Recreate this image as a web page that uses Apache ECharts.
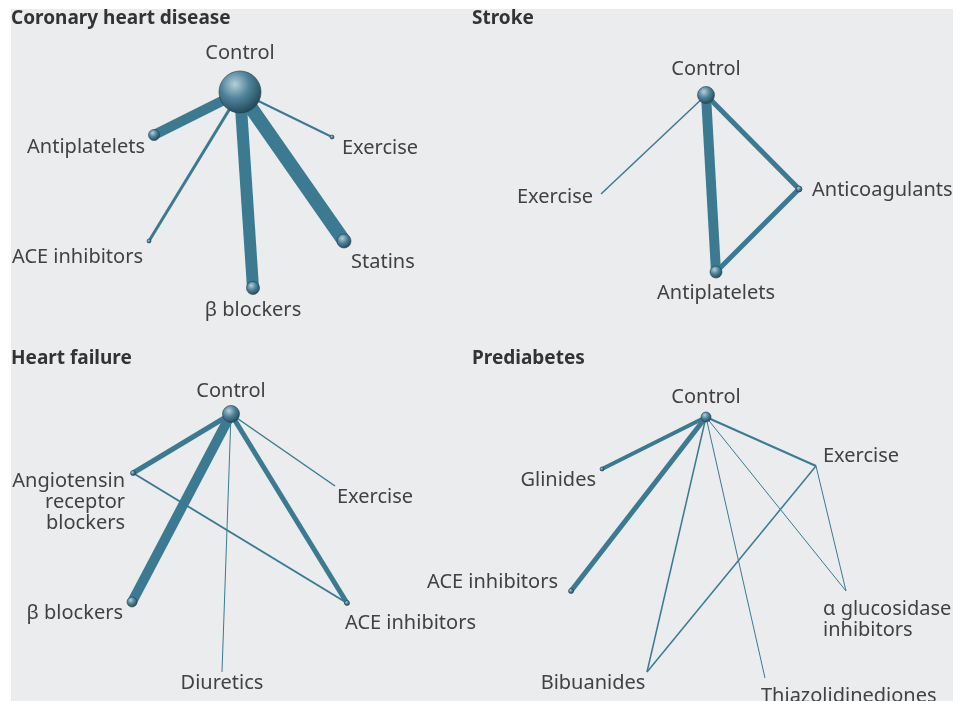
<!DOCTYPE html>
<html>
<head>
<meta charset="utf-8">
<script src="https://cdn.jsdelivr.net/npm/echarts@6/dist/echarts.min.js"></script>
<style>
  html, body { margin: 0; background: #fff; }
  #chart { width: 966px; height: 701px; }
</style>
</head>
<body>
<div id="chart"></div>
<script>
const panelTitles = ["Coronary heart disease", "Stroke", "Heart failure", "Prediabetes"];

// nodes: [name, x, y, ball size] in each panel's own units
const chdNodes = [
  ["Control", 240, 92, 42],
  ["Antiplatelets", 154, 135, 11],
  ["Exercise", 332, 137, 4],
  ["ACE inhibitors", 149, 241, 4],
  ["Statins", 344, 241, 14],
  ["β blockers", 253, 288, 13],
];
// edges: [from, to, thickness]
const chdEdges = [
  ["Control", "Antiplatelets", 10],
  ["Control", "Exercise", 2],
  ["Control", "ACE inhibitors", 3],
  ["Control", "Statins", 14],
  ["Control", "β blockers", 12],
];

const strokeNodes = [
  ["Control", 223, 95, 17],
  ["Exercise", 118, 194, 0],
  ["Anticoagulants", 316, 189, 6],
  ["Antiplatelets", 233, 272, 12],
];
const strokeEdges = [
  ["Control", "Exercise", 1.5],
  ["Control", "Anticoagulants", 5],
  ["Control", "Antiplatelets", 10],
  ["Anticoagulants", "Antiplatelets", 5],
];

const hfNodes = [
  ["Control", 231, 74, 17],
  ["Angiotensin\nreceptor\nblockers", 133, 133, 5],
  ["Exercise", 335, 146, 0],
  ["β blockers", 132, 262, 10],
  ["ACE inhibitors", 347, 263, 5],
  ["Diuretics", 222, 332, 0],
];
const hfEdges = [
  ["Control", "Angiotensin\nreceptor\nblockers", 5],
  ["Control", "Exercise", 1.5],
  ["Control", "β blockers", 10],
  ["Control", "ACE inhibitors", 5],
  ["Control", "Diuretics", 1],
  ["Angiotensin\nreceptor\nblockers", "ACE inhibitors", 2],
];

const predNodes = [
  ["Control", 223, 77, 10],
  ["Glinides", 119, 129, 4],
  ["Exercise", 333, 126, 0],
  ["ACE inhibitors", 88, 251, 5],
  ["α glucosidase\ninhibitors", 363, 251, 0],
  ["Bibuanides", 164, 332, 0],
  ["Thiazolidinediones", 282, 338, 0],
];
const predEdges = [
  ["Control", "Glinides", 4],
  ["Control", "ACE inhibitors", 5],
  ["Control", "Exercise", 2],
  ["Control", "Bibuanides", 1.5],
  ["Control", "Thiazolidinediones", 1],
  ["Control", "α glucosidase\ninhibitors", 1],
  ["Exercise", "α glucosidase\ninhibitors", 1],
  ["Exercise", "Bibuanides", 1.5],
];

// label placement per panel: [dx, dy, align]
const labelPlacement = [
  [[0, -39, "center"], [-9, 12, "right"], [10, 11, "left"], [-6, 16, "right"], [7, 21, "left"], [0, 22, "center"]],
  [[0, -26, "center"], [-8, 3, "right"], [13, 1, "left"], [0, 21, "center"]],
  [[0, -23, "center"], [-8, 29, "right"], [2, 11, "left"], [-9, 11, "right"], [-2, 20, "left"], [0, 11, "center"]],
  [[0, -20, "center"], [-6, 11, "right"], [7, -10, "left"], [-13, -9, "right"], [-23, 29, "left"], [-54, 11, "center"], [-4, 18, "left"]],
];

const panels = [
  { nodes: chdNodes, edges: chdEdges, left: 0, top: 0 },
  { nodes: strokeNodes, edges: strokeEdges, left: 483, top: 0 },
  { nodes: hfNodes, edges: hfEdges, left: 0, top: 340 },
  { nodes: predNodes, edges: predEdges, left: 483, top: 340 },
];

const font = "Noto Sans";
const edgeColor = "#3b7a90";
const ball = {
  type: "radial", x: 0.38, y: 0.32, r: 0.75,
  colorStops: [
    { offset: 0, color: "#b4cfdb" },
    { offset: 0.45, color: "#4f8399" },
    { offset: 1, color: "#1a4152" },
  ],
};

const chart = echarts.init(document.getElementById("chart"), null, { renderer: "canvas" });

const option = {
  animation: false,
  backgroundColor: "#fff",
  graphic: [{
    type: "rect", silent: true, z: -10,
    shape: { x: 11, y: 9, width: 942, height: 692 },
    style: { fill: "#ebeced" },
  }],
  title: panelTitles.map((t, i) => ({
    text: t,
    left: panels[i].left + (i % 2 === 0 ? 11 : -11),
    top: panels[i].top + 9,
    padding: 0,
    textStyle: { fontFamily: font, fontSize: 19, fontWeight: "bold", color: "#333" },
  })),
  grid: panels.map((p) => ({ left: p.left, top: p.top, width: 483, height: 350 })),
  xAxis: panels.map((p, i) => ({ type: "value", gridIndex: i, min: 0, max: 483, show: false })),
  yAxis: panels.map((p, i) => ({ type: "value", gridIndex: i, min: 0, max: 350, inverse: true, show: false })),
  series: panels.map((p, i) => ({
    type: "graph",
    layout: "none",
    coordinateSystem: "cartesian2d",
    xAxisIndex: i,
    yAxisIndex: i,
    silent: true,
    data: p.nodes.map(([name, x, y, size], j) => {
      const [dx, dy, align] = labelPlacement[i][j];
      return {
        name,
        value: [x, y],
        symbolSize: size,
        label: {
          show: true,
          position: "inside",
          offset: [dx, dy],
          align,
          verticalAlign: "middle",
          fontFamily: font,
          fontSize: 20,
          lineHeight: 21,
          color: "#414141",
        },
      };
    }),
    links: p.edges.map(([source, target, w]) => ({
      source, target, lineStyle: { width: w },
    })),
    itemStyle: { color: ball, borderColor: "#1c3f4e", borderWidth: 0.6 },
    lineStyle: { color: edgeColor, opacity: 1, curveness: 0 },
  })),
};

chart.setOption(option);
window.addEventListener("resize", chart.resize);
</script>
</body>
</html>
